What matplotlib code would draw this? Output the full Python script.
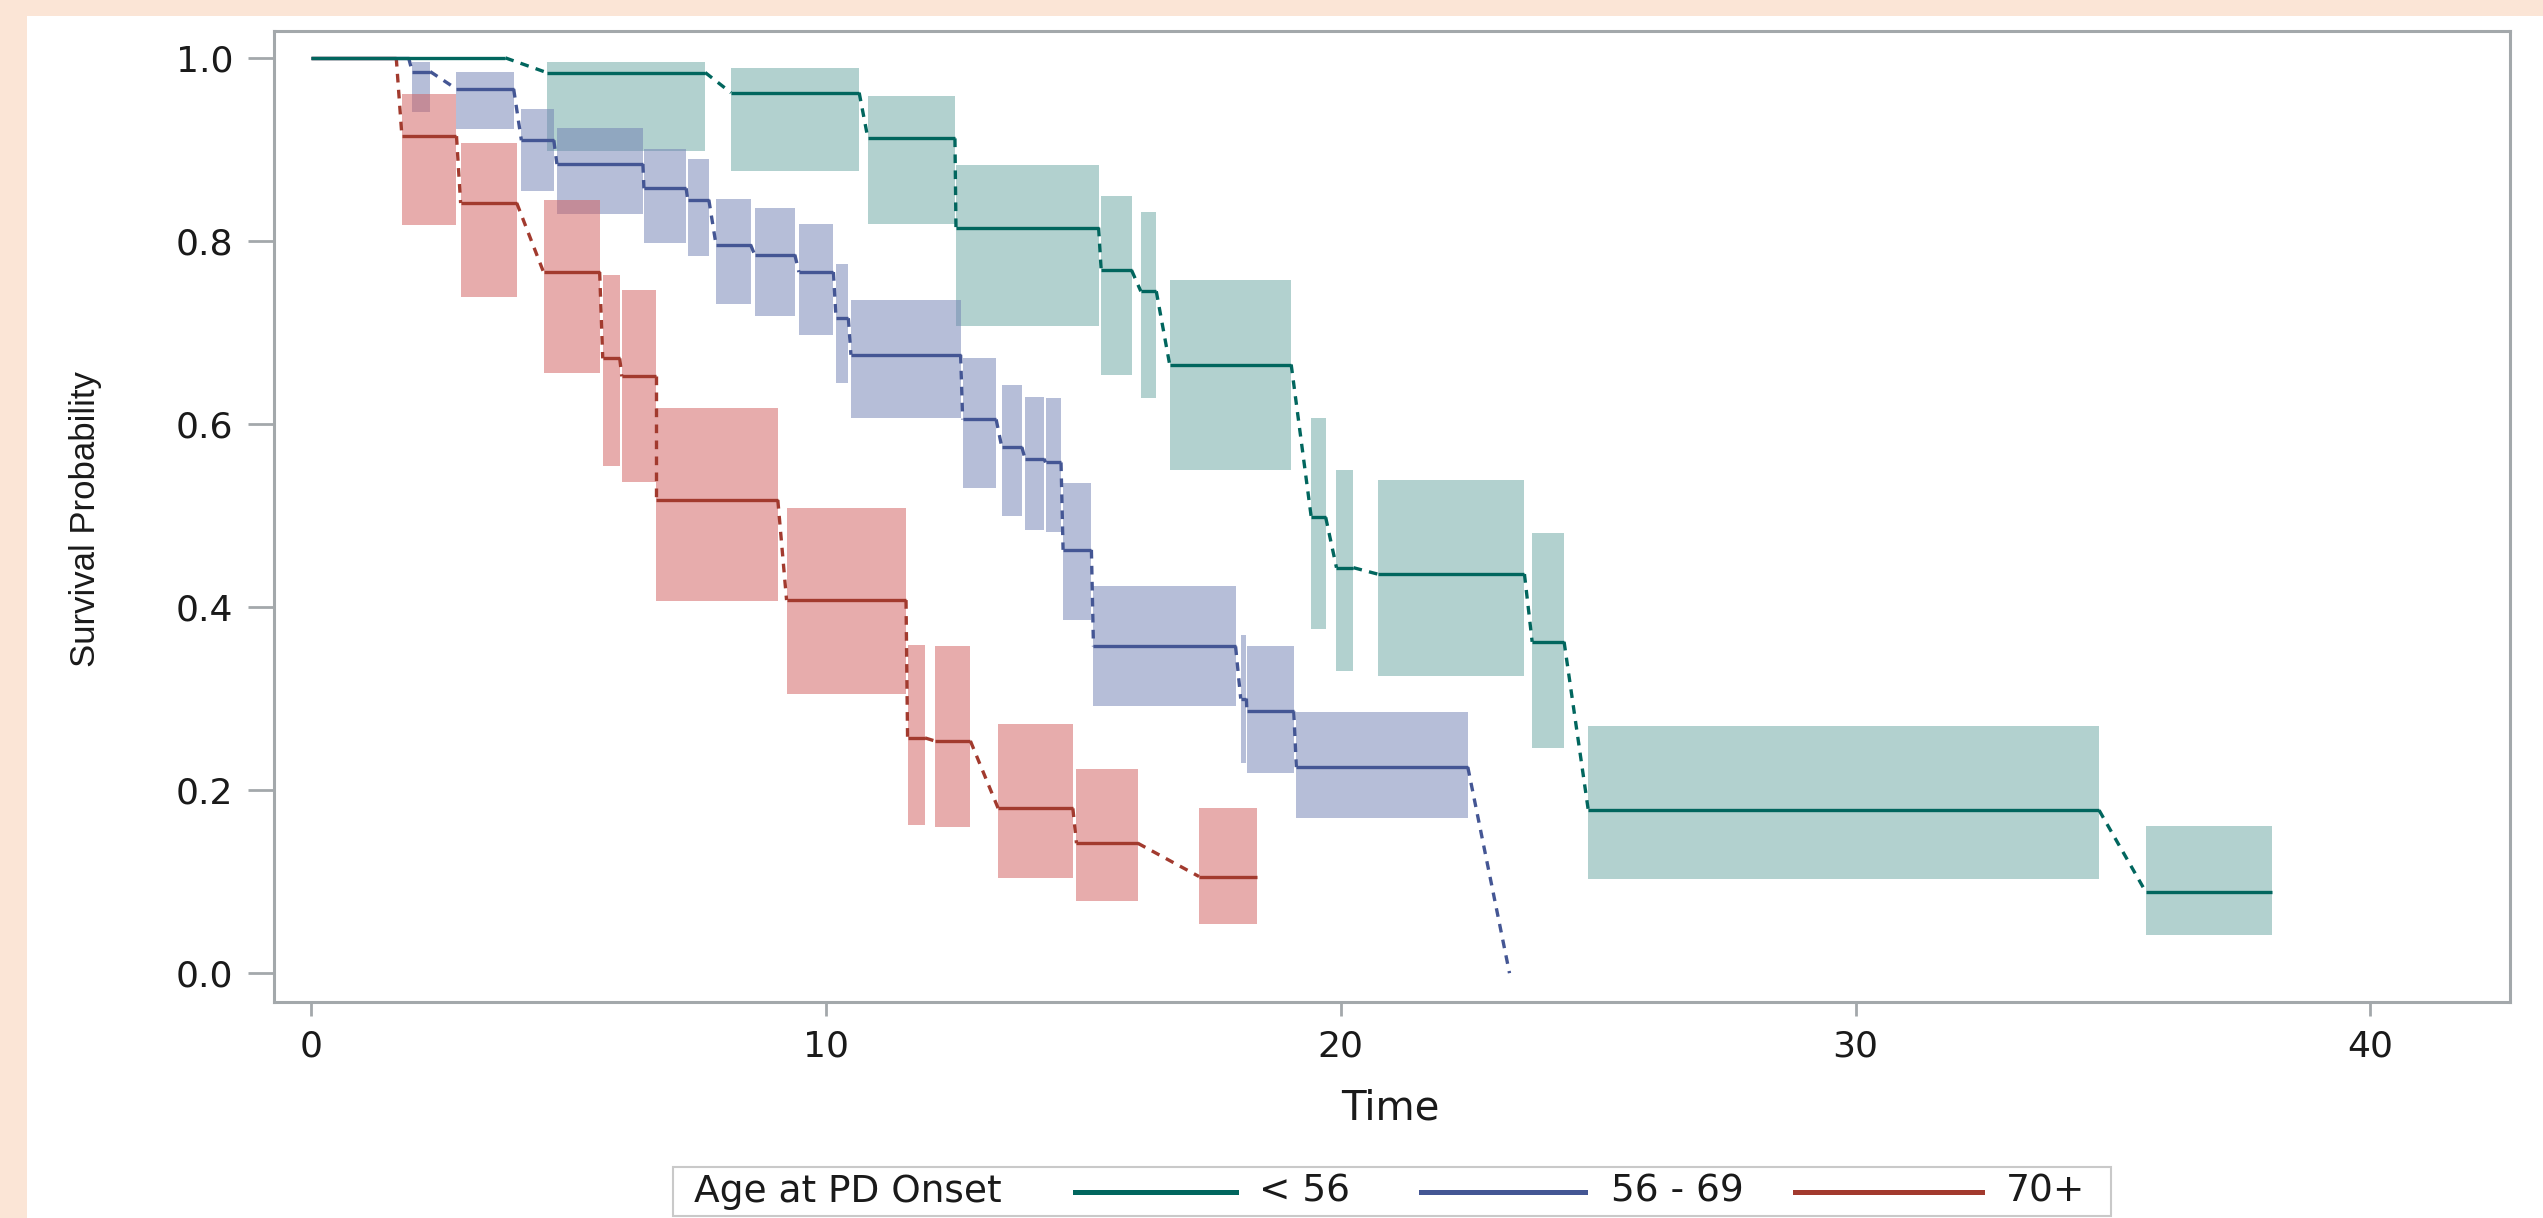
import numpy as np
import matplotlib
matplotlib.use("Agg")
import matplotlib.pyplot as plt
from matplotlib.patches import Rectangle
from matplotlib.lines import Line2D
from matplotlib import font_manager

# ---------------- data ----------------
groups = ["< 56", "56 - 69", "70+"]
legend_title = "Age at PD Onset"

# Age < 56
g1_start = [0.0, 4.58, 8.16, 10.82, 12.53, 15.35, 16.12, 16.68, 19.43, 19.92, 20.72, 23.72, 24.81, 35.64]
g1_end   = [3.78, 7.66, 10.65, 12.51, 15.30, 15.94, 16.42, 19.04, 19.71, 20.25, 23.57, 24.34, 34.73, 38.09]
g1_surv  = [1.0, 0.984, 0.962, 0.912, 0.8145, 0.768, 0.745, 0.665, 0.498, 0.443, 0.436, 0.362, 0.178, 0.0885]
g1_lower = [np.nan, 0.898, 0.876, 0.818, 0.707, 0.653, 0.628, 0.550, 0.376, 0.330, 0.3245, 0.246, 0.103, 0.0416]
g1_upper = [np.nan, 0.996, 0.989, 0.958, 0.883, 0.849, 0.832, 0.757, 0.607, 0.550, 0.539, 0.481, 0.270, 0.161]

# Age 56 - 69
g2_start = [0.0, 1.97, 2.83, 4.09, 4.78, 6.47, 7.32, 7.87, 8.62, 9.48, 10.20, 10.49, 12.66, 13.42,
            13.87, 14.27, 14.61, 15.20, 18.06, 18.18, 19.14, 23.28]
g2_end   = [1.90, 2.32, 3.94, 4.72, 6.45, 7.29, 7.73, 8.54, 9.40, 10.15, 10.44, 12.62, 13.31, 13.81,
            14.24, 14.57, 15.16, 17.96, 18.17, 19.09, 22.47, 23.28]
g2_surv  = [1.0, 0.985, 0.966, 0.910, 0.884, 0.8575, 0.845, 0.796, 0.785, 0.766, 0.7156, 0.6756, 0.605, 0.5747,
            0.562, 0.558, 0.4625, 0.357, 0.300, 0.286, 0.2251, 0.0]
g2_lower = [np.nan, 0.941, 0.922, 0.855, 0.829, 0.7975, 0.784, 0.731, 0.7185, 0.6975, 0.645, 0.607, 0.530, 0.499,
            0.484, 0.4815, 0.3855, 0.2924, 0.2295, 0.2186, 0.1694, np.nan]
g2_upper = [np.nan, 0.995, 0.985, 0.944, 0.923, 0.900, 0.890, 0.846, 0.8365, 0.819, 0.7745, 0.735, 0.6717, 0.643,
            0.630, 0.628, 0.5357, 0.4232, 0.3696, 0.3576, 0.2848, np.nan]

# Age 70+
g3_start = [0.0, 1.77, 2.91, 4.52, 5.67, 6.04, 6.70, 9.24, 11.59, 12.12, 13.35, 14.87, 17.25]
g3_end   = [1.66, 2.83, 4.00, 5.61, 6.00, 6.70, 9.07, 11.56, 11.93, 12.81, 14.80, 16.06, 18.38]
g3_surv  = [1.0, 0.9145, 0.8414, 0.766, 0.6717, 0.652, 0.517, 0.4076, 0.257, 0.2537, 0.180, 0.142, 0.1056]
g3_lower = [np.nan, 0.817, 0.739, 0.656, 0.5537, 0.5366, 0.4068, 0.3048, 0.1618, 0.1597, 0.1045, 0.0791, 0.054]
g3_upper = [np.nan, 0.961, 0.907, 0.845, 0.763, 0.746, 0.617, 0.5087, 0.359, 0.357, 0.2718, 0.2229, 0.1803]

x_ticks = [0, 10, 20, 30, 40]
y_ticks = [0.0, 0.2, 0.4, 0.6, 0.8, 1.0]

# ---------------- styles ----------------
line_colors = ["#01665E", "#445694", "#A23A2E"]
fill_colors = ["#66A5A0", "#6F7EB3", "#D05B5B"]
axis_gray = "#A3A8AB"
text_color = "#1A1A1A"

W, H = 2543, 1218
fig = plt.figure(figsize=(W / 100, H / 100), dpi=100)
fig.patch.set_facecolor("#FBE5D6")
fig.patches.append(Rectangle((27 / W, 0), 1 - 27 / W, 1 - 16 / H,
                             transform=fig.transFigure, facecolor="white",
                             edgecolor="none", zorder=-10))

ax_l, ax_r, ax_t, ax_b = 273.6, 2510.0, 30.7, 1002.0
ax = fig.add_axes([ax_l / W, 1 - ax_b / H, (ax_r - ax_l) / W, (ax_b - ax_t) / H])
ax.set_facecolor("white")
ax.set_zorder(1)

series = [
    (g1_start, g1_end, g1_surv, g1_lower, g1_upper),
    (g2_start, g2_end, g2_surv, g2_lower, g2_upper),
    (g3_start, g3_end, g3_surv, g3_lower, g3_upper),
]

# confidence boxes
for (s, e, sv, lo, hi), fc in zip(series, fill_colors):
    s, e, lo, hi = map(np.asarray, (s, e, lo, hi))
    m = ~np.isnan(lo)
    ax.bar(s[m], (hi - lo)[m], width=(e - s)[m], bottom=lo[m], align="edge",
           color=fc, alpha=0.5, linewidth=0, zorder=1)

# step lines (draw 70+ first so < 56 sits on top at S = 1)
for idx in [2, 1, 0]:
    s, e, sv, lo, hi = series[idx]
    lc = line_colors[idx]
    ax.hlines(sv, s, e, colors=lc, linewidth=2.4, zorder=3)
    for i in range(len(sv) - 1):
        ax.plot([e[i], s[i + 1]], [sv[i], sv[i + 1]], color=lc, linewidth=2.4,
                linestyle=(0, (2.6, 2.2)), zorder=3, dash_capstyle="butt")

ax.set_xlim(-0.722, 42.71)
ax.set_ylim(-0.0315, 1.0297)
ax.set_xticks(x_ticks)
ax.set_xticklabels([str(v) for v in x_ticks])
ax.set_yticks(y_ticks)
ax.set_yticklabels([f"{v:.1f}" for v in y_ticks])

for sp in ax.spines.values():
    sp.set_color(axis_gray)
    sp.set_linewidth(2.2)

tick_font = "DejaVu Sans"
ax.tick_params(axis="y", direction="out", length=19, width=2.0, color=axis_gray,
               pad=10, labelsize=26, labelcolor=text_color)
ax.tick_params(axis="x", direction="out", length=10, width=2.0, color=axis_gray,
               pad=10, labelsize=26, labelcolor=text_color)
for lab in ax.get_xticklabels() + ax.get_yticklabels():
    lab.set_fontfamily(tick_font)

# axis labels
names = {f.name for f in font_manager.fontManager.ttflist}
if "Liberation Sans Narrow" in names:
    yl_family, yl_size = "Liberation Sans Narrow", 31
else:
    yl_family, yl_size = "Liberation Sans", 25
ax.set_ylabel("Survival Probability", fontsize=yl_size, family=yl_family,
              color=text_color, va="center", ha="center")
ax.yaxis.set_label_coords((86 - ax_l) / (ax_r - ax_l), (ax_b - 519) / (ax_b - ax_t))
ax.set_xlabel("Time", fontsize=29, family=tick_font, color=text_color,
              va="center", ha="center")
ax.xaxis.set_label_coords((1390 - ax_l) / (ax_r - ax_l), (ax_b - 1108) / (ax_b - ax_t))

# legend (drawn in figure coordinates)
def fx(px):
    return px / W

def fy(py):
    return 1 - py / H

fig.patches.append(Rectangle((fx(673), fy(1216)), fx(2111) - fx(673), fy(1167) - fy(1216),
                             transform=fig.transFigure, facecolor="white",
                             edgecolor="#C9C9C9", linewidth=1.5, zorder=5))
ly = fy(1192)
fig.text(fx(694), ly, legend_title, fontsize=27, family=tick_font, color=text_color,
         ha="left", va="center", zorder=6)
swatches = [(1075, 1236, 1259), (1421, 1585, 1611), (1795, 1982, 2006)]
for (x0, x1, xt), lab, lc in zip(swatches, groups, line_colors):
    fig.lines.append(Line2D([fx(x0), fx(x1)], [ly, ly], transform=fig.transFigure,
                            color=lc, linewidth=3.6, zorder=6))
    fig.text(fx(xt), ly, lab, fontsize=27, family=tick_font, color=text_color,
             ha="left", va="center", zorder=6)

fig.savefig("out.png", dpi=100, facecolor=fig.get_facecolor())
